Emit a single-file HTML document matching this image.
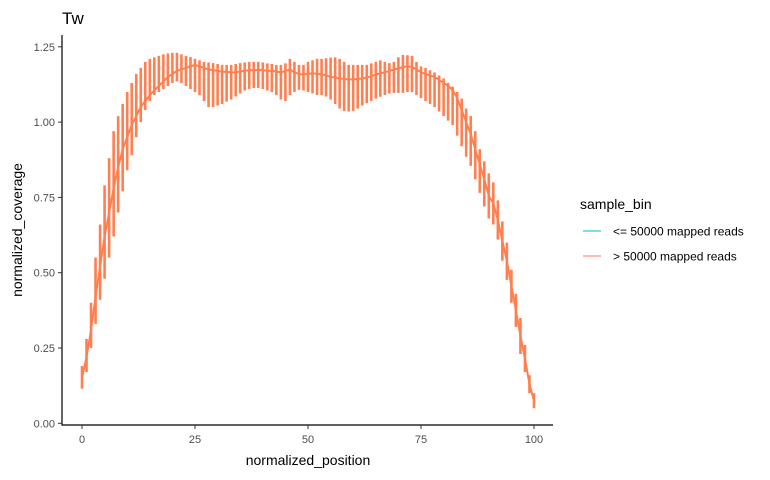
<!DOCTYPE html>
<html><head><meta charset="utf-8"><style>
body{margin:0;background:#fff;font-family:"Liberation Sans",Arial,sans-serif}
svg text{font-family:"Liberation Sans",Arial,sans-serif}
</style></head><body>
<svg id="chart" width="770" height="475">
<text x="62" y="24" font-size="17" fill="#000">Tw</text>
<g id="marks"></g>
<line x1="62" y1="35" x2="62" y2="425.5" stroke="#000" stroke-width="1.2"/>
<line x1="61.5" y1="425" x2="553" y2="425" stroke="#000" stroke-width="1.2"/>
<g id="ticks"></g>
<text x="308" y="465" font-size="14" text-anchor="middle" fill="#000">normalized_position</text>
<text transform="translate(22,230) rotate(-90)" font-size="14" text-anchor="middle" fill="#000">normalized_coverage</text>
<g>
<text x="580" y="209" font-size="14" fill="#000">sample_bin</text>
<g>
<line x1="583" y1="231" x2="601" y2="231" stroke="#00bfc4" stroke-width="1"/>
<text x="613" y="235.5" font-size="12" fill="#000">&lt;= 50000 mapped reads</text></g>
<g>
<line x1="583" y1="256" x2="601" y2="256" stroke="#f8766d" stroke-width="1"/>
<text x="613" y="260.5" font-size="12" fill="#000">&gt; 50000 mapped reads</text></g>
</g>
</svg>
<script>
const upper=[.19,.28,.40,.55,.66,.79,.88,.97,1.02,1.06,1.10,1.13,1.16,1.18,1.20,1.21,1.215,1.22,1.225,1.228,1.23,1.23,1.225,1.22,1.216,1.21,1.205,1.20,1.198,1.196,1.193,1.19,1.19,1.19,1.193,1.196,1.198,1.20,1.20,1.20,1.198,1.195,1.193,1.19,1.19,1.195,1.21,1.20,1.19,1.19,1.20,1.205,1.21,1.21,1.212,1.214,1.215,1.21,1.20,1.19,1.19,1.19,1.19,1.19,1.195,1.20,1.205,1.20,1.196,1.20,1.215,1.223,1.222,1.22,1.20,1.185,1.18,1.172,1.165,1.155,1.145,1.13,1.118,1.10,1.078,1.045,1.02,.97,.91,.87,.83,.80,.74,.67,.60,.51,.43,.35,.26,.16,.10];
const lower=[.115,.17,.25,.33,.41,.48,.55,.62,.70,.77,.84,.89,.95,1.00,1.04,1.07,1.09,1.10,1.11,1.12,1.13,1.135,1.13,1.12,1.11,1.10,1.09,1.07,1.05,1.05,1.055,1.06,1.068,1.075,1.085,1.095,1.105,1.11,1.113,1.113,1.11,1.105,1.10,1.09,1.075,1.07,1.09,1.10,1.107,1.105,1.10,1.095,1.09,1.09,1.085,1.075,1.06,1.045,1.037,1.035,1.037,1.045,1.055,1.063,1.07,1.078,1.084,1.09,1.095,1.097,1.097,1.097,1.10,1.10,1.09,1.08,1.07,1.06,1.05,1.035,1.02,1.005,.99,.955,.92,.885,.855,.81,.765,.72,.68,.66,.61,.54,.476,.40,.32,.23,.17,.10,.05];
const meanCov=[.15,.22,.31,.42,.52,.62,.70,.78,.85,.91,.95,.99,1.02,1.05,1.07,1.09,1.105,1.12,1.135,1.15,1.16,1.17,1.175,1.18,1.185,1.19,1.185,1.18,1.175,1.172,1.17,1.167,1.167,1.165,1.165,1.168,1.17,1.172,1.173,1.173,1.173,1.17,1.17,1.168,1.165,1.17,1.175,1.165,1.16,1.158,1.16,1.162,1.16,1.158,1.155,1.15,1.148,1.145,1.143,1.142,1.142,1.143,1.145,1.148,1.152,1.158,1.162,1.165,1.17,1.175,1.178,1.183,1.185,1.183,1.175,1.165,1.16,1.155,1.15,1.14,1.13,1.12,1.107,1.08,1.04,1.0,.96,.91,.86,.81,.755,.73,.675,.605,.54,.455,.375,.29,.215,.13,.075];
const xTicks=[0,25,50,75,100];
const xTickLabels=["0","25","50","75","100"];
const yTicks=[0,0.25,0.5,0.75,1.0,1.25];
const yTickLabels=["0.00","0.25","0.50","0.75","1.00","1.25"];
const NS="http://www.w3.org/2000/svg";
const xs=v=>82+v*4.52;
const ys=v=>423.3-v*301.2;
const col="#ff7f50";
const marks=document.getElementById('marks');
for(let i=0;i<upper.length;i++){
  const l=document.createElementNS(NS,'line');
  l.setAttribute('x1',xs(i));l.setAttribute('x2',xs(i));
  l.setAttribute('y1',ys(upper[i]));l.setAttribute('y2',ys(lower[i]));
  l.setAttribute('stroke',col);l.setAttribute('stroke-width','2.6');
  
  
  marks.appendChild(l);
}
let d='';
meanCov.forEach((v,i)=>{d+=(i?'L':'M')+xs(i).toFixed(2)+','+ys(v).toFixed(2);});
const p=document.createElementNS(NS,'path');
p.setAttribute('d',d);p.setAttribute('fill','none');p.setAttribute('stroke',col);p.setAttribute('stroke-width','2');


marks.appendChild(p);
const tg=document.getElementById('ticks');
xTicks.forEach((t,i)=>{
  const l=document.createElementNS(NS,'line');
  l.setAttribute('x1',xs(t));l.setAttribute('x2',xs(t));l.setAttribute('y1',425);l.setAttribute('y2',429);
  l.setAttribute('stroke','#333');
  
  
  tg.appendChild(l);
  const tx=document.createElementNS(NS,'text');
  tx.setAttribute('x',xs(t));tx.setAttribute('y',443);tx.setAttribute('font-size','11');
  tx.setAttribute('text-anchor','middle');tx.setAttribute('fill','#4d4d4d');
  tx.textContent=xTickLabels[i];
  
  
  tg.appendChild(tx);
});
yTicks.forEach((t,i)=>{
  const l=document.createElementNS(NS,'line');
  l.setAttribute('x1',58);l.setAttribute('x2',62);l.setAttribute('y1',ys(t));l.setAttribute('y2',ys(t));
  l.setAttribute('stroke','#333');
  
  
  tg.appendChild(l);
  const tx=document.createElementNS(NS,'text');
  tx.setAttribute('x',55);tx.setAttribute('y',ys(t)+4);tx.setAttribute('font-size','11');
  tx.setAttribute('text-anchor','end');tx.setAttribute('fill','#4d4d4d');
  tx.textContent=yTickLabels[i];
  
  
  tg.appendChild(tx);
});
</script>
</body></html>
